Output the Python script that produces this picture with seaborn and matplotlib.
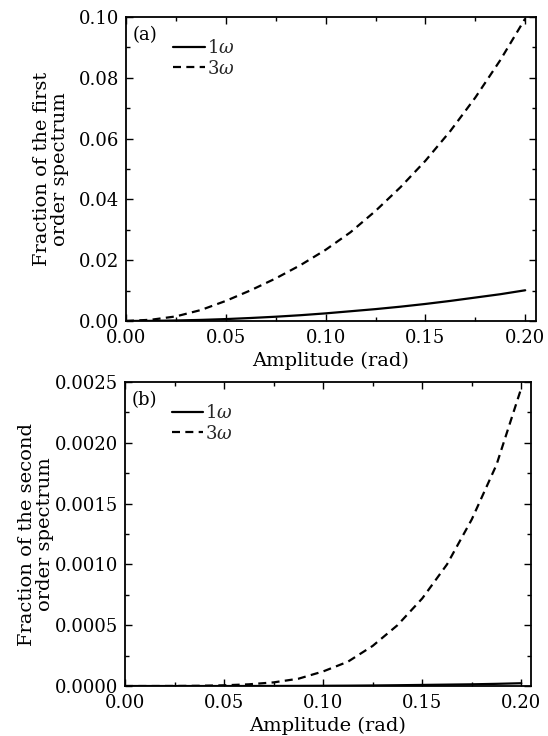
import matplotlib
matplotlib.use("Agg")
import matplotlib.pyplot as plt
import seaborn as sns
import pandas as pd
from matplotlib.ticker import AutoMinorLocator, FormatStrFormatter, MultipleLocator

# ---- data ----
amplitude = [0.0, 0.0125, 0.025, 0.0375, 0.05, 0.0625, 0.075, 0.0875, 0.10,
             0.1125, 0.125, 0.1375, 0.15, 0.1625, 0.175, 0.1875, 0.20]

first_1w = [0.0, 0.00004, 0.00016, 0.00035, 0.00062, 0.00098, 0.0014, 0.0019,
            0.0025, 0.0032, 0.0039, 0.0047, 0.0056, 0.0066, 0.0077, 0.0088, 0.0101]
first_3w = [0.0, 0.0004, 0.0015, 0.0036, 0.0066, 0.0101, 0.0140, 0.0184, 0.0234,
            0.0292, 0.0362, 0.0440, 0.0527, 0.0625, 0.0735, 0.0858, 0.0995]

second_1w = [0.0, 0.0, 0.0, 0.0, 0.0, 0.0000003, 0.0000006, 0.0000012, 0.000002,
             0.000003, 0.0000045, 0.0000065, 0.000009, 0.0000115, 0.000014,
             0.000018, 0.000023]
second_3w = [0.0, 0.0, 0.0000005, 0.000002, 0.000006, 0.000014, 0.00003, 0.00006,
             0.00012, 0.0002, 0.00033, 0.0005, 0.00072, 0.001, 0.00137, 0.00182,
             0.00245]

labels = [r"1$\omega$", r"3$\omega$"]
panel_tags = ["(a)", "(b)"]
ylabels = ["Fraction of the first\norder spectrum",
           "Fraction of the second\norder spectrum"]
xlabel = "Amplitude (rad)"

sns.set_theme(style="ticks")
plt.rcParams["font.family"] = ["DejaVu Serif"]
plt.rcParams["mathtext.fontset"] = "dejavuserif"
plt.rcParams["axes.linewidth"] = 1.3

fig = plt.figure(figsize=(5.48, 7.36), dpi=100)
ax1 = fig.add_axes([0.2299, 0.5639, 0.7482, 0.4130])
ax2 = fig.add_axes([0.2281, 0.0679, 0.7409, 0.4131])

dash = (0, (3.6, 2.4))
FS = 13
LFS = 14

panels = [
    (ax1, first_1w, first_3w, (0, 0.2054), (0, 0.10), 0.02, "%.2f", -0.138),
    (ax2, second_1w, second_3w, (0, 0.2049), (0, 0.0025), 0.0005, "%.4f", -0.175),
]

for i, (ax, y1, y3, xl, yl, ystep, yfmt, ylx) in enumerate(panels):
    df = pd.DataFrame({"x": amplitude, "y1": y1, "y3": y3})
    sns.lineplot(data=df, x="x", y="y1", ax=ax, color="black", lw=1.6,
                 label=labels[0])
    sns.lineplot(data=df, x="x", y="y3", ax=ax, color="black", lw=1.6,
                 linestyle=dash, label=labels[1])
    ax.set_xlim(*xl)
    ax.set_ylim(*yl)
    ax.xaxis.set_major_locator(MultipleLocator(0.05))
    ax.yaxis.set_major_locator(MultipleLocator(ystep))
    ax.xaxis.set_minor_locator(AutoMinorLocator(2))
    ax.yaxis.set_minor_locator(AutoMinorLocator(2))
    ax.xaxis.set_major_formatter(FormatStrFormatter("%.2f"))
    ax.yaxis.set_major_formatter(FormatStrFormatter(yfmt))
    ax.tick_params(which="both", direction="in", top=True, right=True,
                   colors="black", labelsize=FS, width=1.0)
    ax.tick_params(which="major", length=5)
    ax.tick_params(axis="x", which="major", pad=6)
    ax.tick_params(axis="y", which="major", pad=5)
    ax.tick_params(which="minor", length=3)
    ax.set_xlabel(xlabel, fontsize=LFS, color="black")
    ax.set_ylabel(ylabels[i], fontsize=LFS, color="black", linespacing=1.0)
    ax.yaxis.set_label_coords(ylx, 0.5)
    ax.xaxis.set_label_coords(0.5, -0.1)
    ax.xaxis.label.set_va("top")
    for s in ax.spines.values():
        s.set_color("black")
    ax.text(0.017, 0.94, panel_tags[i], transform=ax.transAxes, fontsize=FS,
            ha="left", va="center", color="black")
    ax.legend(loc="upper left", bbox_to_anchor=(0.115, 0.928),
              frameon=False, fontsize=FS, handlelength=1.75,
              handletextpad=0.1, labelspacing=0.15, borderpad=0,
              borderaxespad=0)

fig.savefig("out.png", dpi=100)
